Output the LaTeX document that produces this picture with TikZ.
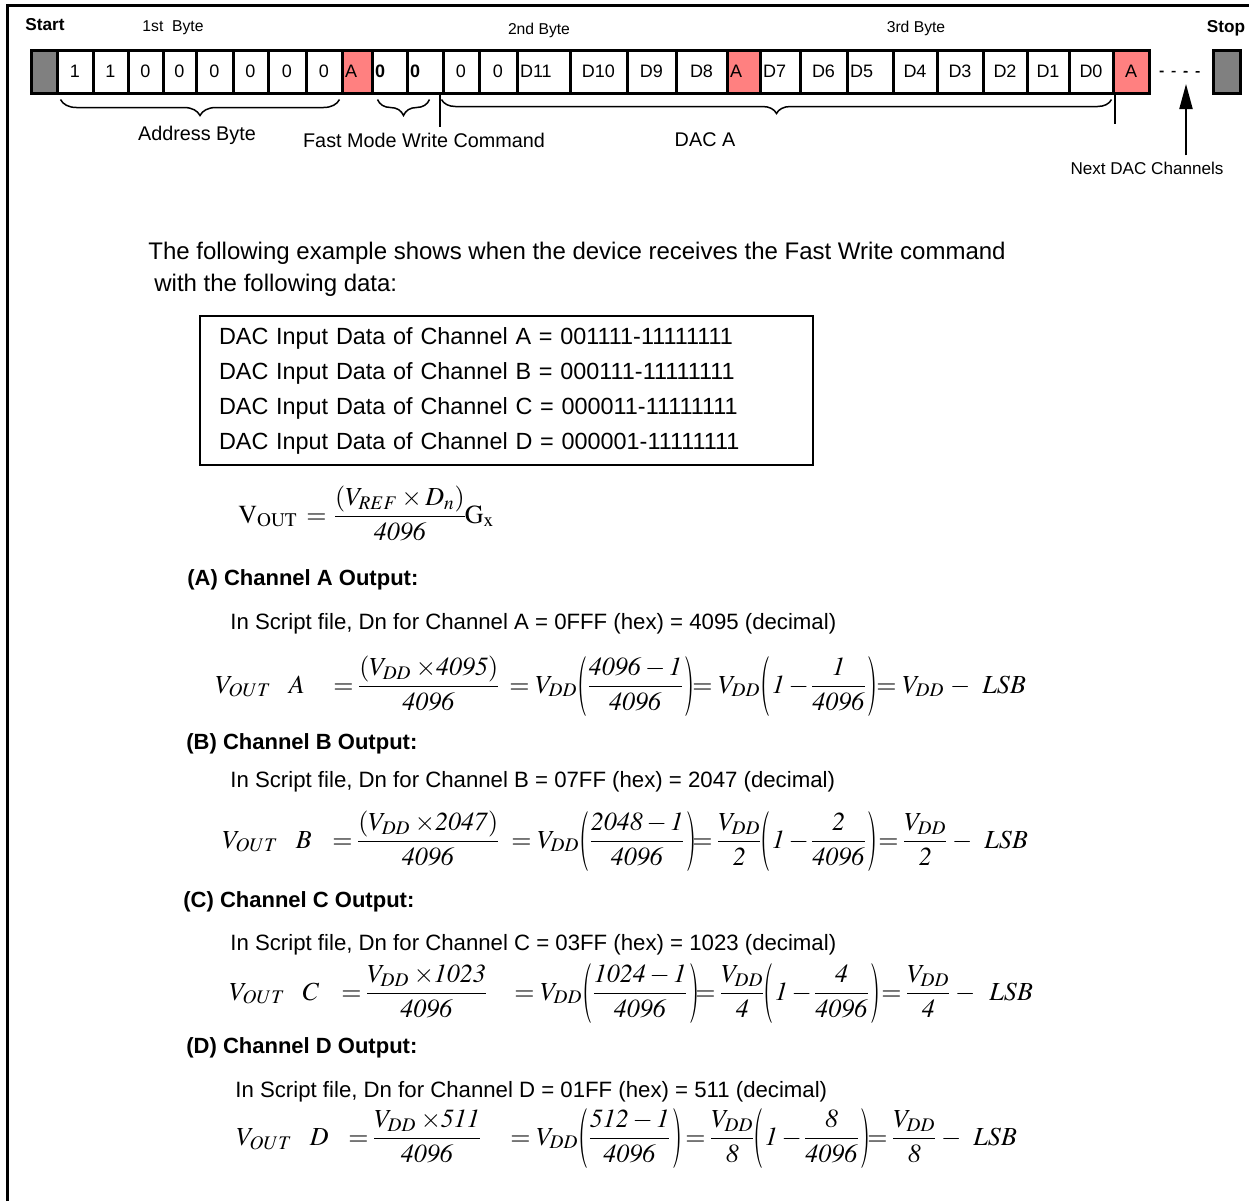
\documentclass[tikz,border=0pt]{standalone}
\usepackage{amsmath}
\usepackage{graphicx}
\usepackage{mathptmx}
\usepackage[no-math]{fontspec}
\setmainfont{Liberation Sans}
\usetikzlibrary{arrows.meta,decorations.pathreplacing}
\definecolor{ackred}{RGB}{255,128,128}
\definecolor{condgray}{RGB}{128,128,128}
\nulldelimiterspace=0pt
\newcommand{\tallopen}{\mathopen{\vcenter{\hbox{\scalebox{1}[2.3]{$($}}}}\mkern1mu}
\newcommand{\tallclose}{\mkern2mu\mathclose{\vcenter{\hbox{\scalebox{1}[2.3]{$)$}}}}}

\begin{document}
\begin{tikzpicture}[x=0.5pt, y=-0.5pt]
    % Define styles
    \tikzstyle{cell} = [rectangle, draw=black, line width=1.5pt, inner xsep=1.5pt, inner ysep=0pt, minimum height=21.5pt, font=\fontsize{9}{10}\selectfont]
    \tikzstyle{bitend} = [rectangle, draw=black, line width=1.5pt, fill=condgray, minimum height=21.5pt, inner sep=0pt]
    \tikzstyle{bytelbl} = [inner sep=0pt, font=\fontsize{7.85}{9}\selectfont]
    \tikzstyle{condlbl} = [inner sep=0pt, font=\bfseries\fontsize{8.6}{10}\selectfont]
    \tikzstyle{fieldlbl} = [inner sep=0pt, font=\fontsize{9.9}{11}\selectfont]
    \tikzstyle{brace} = [decorate, decoration={brace, mirror, amplitude=8pt}, line width=0.75pt]
    \tikzstyle{body} = [anchor=base west, inner sep=0pt, font=\fontsize{11.1}{13}\selectfont]
    \tikzstyle{heading} = [anchor=base west, inner sep=0pt, font=\bfseries\fontsize{11}{13}\selectfont]
    \tikzstyle{eq} = [anchor=base west, inner sep=0pt, font=\fontsize{13}{15}\selectfont]

    \useasboundingbox (0,0) rectangle (1249,1201);
    \draw[line width=1.5pt] (7,1201) -- (7,5) -- (1249,5);

    % Place nodes: bit frame
    \node[bitend, minimum width=13pt] (start) at (44,71.5) {};
    \foreach \xa/\xb/\txt/\fil/\al [count=\i] in {
        57/93/1/white/center, 93/128/1/white/center, 128/163/0/white/center,
        163/196/0/white/center, 196/233/0/white/center, 233/268/0/white/center,
        268/306/0/white/center, 306/342/0/white/center, 342/372/A/ackred/left,
        372/407/\textbf{0}/white/left, 407/443/\textbf{0}/white/left,
        443/479/0/white/center, 479/517/0/white/center, 517/570/D11/white/left,
        570/627/D10/white/center, 627/676/D9/white/center, 676/727/D8/white/center,
        727/760/A/ackred/left, 760/800/D7/white/left, 800/847/D6/white/center,
        847/893/D5/white/left, 893/937/D4/white/center, 937/983/D3/white/center,
        983/1027/D2/white/center, 1027/1069/D1/white/center,
        1069/1113/D0/white/center, 1113/1149/A/ackred/center} {
        \pgfmathsetmacro{\tw}{(\xb-\xa)*0.5-3}
        \node[cell, fill=\fil, text width=\tw pt, align=\al] (b\i) at ({(\xa+\xb)/2},71.5) {\txt};
    }
    \node[bitend, minimum width=13.5pt] (stop) at (1226.5,72) {};

    \node[condlbl] (startlbl) at (45,25) {Start};
    \node[condlbl] (stoplbl) at (1226,28) {Stop};
    \node[bytelbl] (byte1) at (173,28) {1st\ \ Byte};
    \node[bytelbl] (byte2) at (539,30) {2nd Byte};
    \node[bytelbl] (byte3) at (916,28) {3rd Byte};

    \node[fieldlbl] (addr) at (197,135) {Address Byte};
    \node[fieldlbl] (fastcmd) at (424,140) {Fast Mode Write Command};
    \node[fieldlbl] (daca) at (705,140) {DAC A};
    \node[bytelbl, font=\fontsize{8.55}{10}\selectfont] (next) at (1147,168) {Next DAC Channels};
    \coordinate (nexthead) at (1186,84);

    % Draw edges
    \draw[brace] ([xshift=2.5pt,yshift=-2.5pt]b1.south west) -- ([xshift=-2pt,yshift=-2.5pt]b8.south east);
    \draw[brace] ([xshift=3.5pt,yshift=-2.5pt]b10.south west) -- ([xshift=-7.5pt,yshift=-2.5pt]b11.south east);
    \draw[brace, decoration={amplitude=7pt}] ([yshift=-2.5pt]b12.south west) -- ([xshift=-1.5pt,yshift=-2.5pt]b26.south east);
    \draw[line width=1pt] ([xshift=-1pt]b12.south west) -- ++(0,32);
    \draw[line width=1pt] (b26.south east) -- ++(0,29);
    \draw[dash pattern=on 2pt off 4pt, line width=0.8pt] ([xshift=4.5pt]b27.east) -- ([xshift=-3pt]stop.west);
    \draw[-{Triangle[width=6.5pt,length=12.5pt]}, line width=1pt] ([yshift=3pt]next.north -| nexthead) -- (nexthead);

    % Example text
    \node[body, font=\fontsize{12}{14}\selectfont] (intro1) at (148,259) {The following example shows when the device receives the Fast Write command};
    \node[body, font=\fontsize{12}{14}\selectfont] (intro2) at (154,291) {with the following data:};
    \node[draw, line width=1pt, anchor=north west, minimum width=306.5pt, minimum height=74.5pt,
          text width=287.5pt, inner xsep=9.5pt, align=left, font=\fontsize{11.7}{17.5}\selectfont] (databox) at (199,315)
        {DAC Input Data of Channel A = 001111-11111111\\
         DAC Input Data of Channel B = 000111-11111111\\
         DAC Input Data of Channel C = 000011-11111111\\
         DAC Input Data of Channel D = 000001-11111111};
    \node[eq] (vout) at (238,523) {$\mathrm{V}_{\mathrm{OUT}}\mkern6mu{=}\mkern6mu\dfrac{(V_{REF}\times D_n)}{\mathit{4096}}\mathrm{G}_{\mathrm{x}}$};

    % Channel A
    \node[heading] (heada) at (187,585) {(A) Channel A Output:};
    \node[body] (scripta) at (230,629) {In Script file, Dn for Channel A = 0FFF (hex) = 4095 (decimal)};
    \node[eq] (ea1) at (215,693) {$V_{OUT}\;\;\;A$};
    \node[eq] (ea2) at (333,693) {$=\dfrac{(V_{DD}\mkern3mu{\times}\mathit{4095})}{\mathit{4096}}$};
    \node[eq] (ea3) at (509,693) {$=V_{DD}\tallopen\dfrac{\mathit{4096}-\mathit{1}}{\mathit{4096}}\tallclose$};
    \node[eq] (ea4) at (692,693) {$=V_{DD}\tallopen\mathit{1}-\dfrac{\mathit{1}}{\mathit{4096}}\tallclose$};
    \node[eq] (ea5) at (876,693) {$=V_{DD}\;-$};
    \node[eq] (ea6) at (982,693) {$LSB$};

    % Channel B
    \node[heading] (headb) at (186,749) {(B) Channel B Output:};
    \node[body] (scriptb) at (230,787) {In Script file, Dn for Channel B = 07FF (hex) = 2047 (decimal)};
    \node[eq] (eb1) at (222,848) {$V_{OUT}\;\;\;B$};
    \node[eq] (eb2) at (332,848) {$=\dfrac{(V_{DD}\mkern3mu{\times}\mathit{2047})}{\mathit{4096}}$};
    \node[eq] (eb3) at (511,848) {$=V_{DD}\tallopen\dfrac{\mathit{2048}-\mathit{1}}{\mathit{4096}}\tallclose$};
    \node[eq] (eb4) at (692,848) {$=\dfrac{V_{DD}}{\mathit{2}}\tallopen\mathit{1}-\dfrac{\mathit{2}}{\mathit{4096}}\tallclose$};
    \node[eq] (eb5) at (878,848) {$=\dfrac{V_{DD}}{\mathit{2}}\;-$};
    \node[eq] (eb6) at (984,848) {$LSB$};

    % Channel C
    \node[heading] (headc) at (183,907) {(C) Channel C Output:};
    \node[body] (scriptc) at (230,950) {In Script file, Dn for Channel C = 03FF (hex) = 1023 (decimal)};
    \node[eq] (ec1) at (229,1000) {$V_{OUT}\;\;\;C$};
    \node[eq] (ec2) at (341,1000) {$=\dfrac{V_{DD}\mkern3mu{\times}\mathit{1023}}{\mathit{4096}}$};
    \node[eq] (ec3) at (514,1000) {$=V_{DD}\tallopen\dfrac{\mathit{1024}-\mathit{1}}{\mathit{4096}}\tallclose$};
    \node[eq] (ec4) at (695,1000) {$=\dfrac{V_{DD}}{\mathit{4}}\tallopen\mathit{1}-\dfrac{\mathit{4}}{\mathit{4096}}\tallclose$};
    \node[eq] (ec5) at (881,1000) {$=\dfrac{V_{DD}}{\mathit{4}}\;-$};
    \node[eq] (ec6) at (989,1000) {$LSB$};

    % Channel D
    \node[heading] (headd) at (186,1053) {(D) Channel D Output:};
    \node[body] (scriptd) at (235,1097) {In Script file, Dn for Channel D = 01FF (hex) = 511 (decimal)};
    \node[eq] (ed1) at (236,1145) {$V_{OUT}\;\;\;D$};
    \node[eq] (ed2) at (348,1145) {$=\dfrac{V_{DD}\mkern3mu{\times}\mathit{511}}{\mathit{4096}}$};
    \node[eq] (ed3) at (510,1145) {$=V_{DD}\tallopen\dfrac{\mathit{512}-\mathit{1}}{\mathit{4096}}\tallclose$};
    \node[eq] (ed4) at (685,1145) {$=\dfrac{V_{DD}}{\mathit{8}}\tallopen\mathit{1}-\dfrac{\mathit{8}}{\mathit{4096}}\tallclose$};
    \node[eq] (ed5) at (867,1145) {$=\dfrac{V_{DD}}{\mathit{8}}\;-$};
    \node[eq] (ed6) at (973,1145) {$LSB$};
\end{tikzpicture}
\end{document}
